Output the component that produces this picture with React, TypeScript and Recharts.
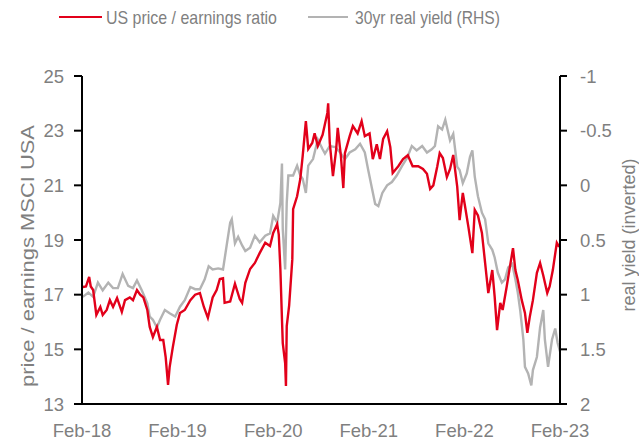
import React from "react";
import { LineChart, Line, XAxis, YAxis } from "recharts";

// months since Feb-2018
const peMonths = [0.1,0.5,0.9,1.1,1.4,1.8,2.3,2.6,3.1,3.5,3.9,4.4,5.0,5.4,6.0,6.4,6.9,7.3,7.7,8.2,8.5,8.9,9.4,9.8,10.2,10.5,10.8,11.0,11.4,11.9,12.3,12.9,13.6,14.2,14.8,15.3,15.8,16.4,16.9,17.3,17.7,17.9,18.6,19.2,19.8,20.1,20.5,21.1,21.7,22.3,23.0,23.6,24.0,24.5,24.7,24.9,25.1,25.2,25.5,25.6,25.7,26.0,26.4,26.5,27.0,27.4,27.7,28.1,28.4,28.9,29.2,29.6,30.2,30.8,30.9,31.1,31.5,31.9,32.1,32.5,32.8,33.0,33.6,34.0,34.6,35.1,35.5,36.1,36.5,37.0,37.4,37.8,38.3,38.7,39.0,39.7,40.3,40.9,41.5,42.2,42.8,43.3,43.7,44.1,44.6,44.9,45.3,45.8,46.2,46.6,47.1,47.4,47.8,48.1,48.5,49.0,49.3,49.7,50.2,50.6,51.0,51.5,51.8,52.1,52.5,52.8,53.3,53.7,54.1,54.4,54.7,55.2,55.6,55.9,56.2,56.6,57.1,57.5,57.9,58.4,58.7,59.1,59.6,59.9];
const peValues = [17.28,17.3,17.65,17.3,17.17,16.26,16.55,16.26,16.44,16.8,16.55,16.88,16.37,16.8,16.9,16.8,17.17,17.0,16.9,16.44,15.82,15.45,15.82,15.34,15.34,14.72,13.7,14.35,15.08,15.9,16.33,16.44,16.8,17.0,17.06,16.55,16.15,16.9,17.17,17.57,17.6,16.7,16.75,17.4,16.84,16.7,17.43,17.94,18.16,18.52,18.9,18.78,19.26,19.58,19.2,17.94,16.1,15.23,14.5,13.66,15.85,16.6,18.3,20.13,20.6,21.23,22.07,23.35,22.33,22.55,22.9,22.44,22.85,23.65,24.0,22.55,21.34,22.3,23.1,22.07,20.9,22.18,22.8,23.17,22.9,23.35,22.8,22.9,21.96,22.5,21.96,22.7,22.98,22.4,21.45,21.7,21.96,22.1,21.7,21.7,21.6,21.42,20.87,21.0,21.7,22.18,22.0,21.3,21.6,22.11,20.94,19.73,20.72,20.2,19.48,18.52,20.1,19.9,19.26,18.16,17.06,17.9,16.92,15.7,16.7,16.44,17.28,18.0,18.7,17.9,17.54,16.8,16.33,15.6,16.18,16.8,17.8,18.16,17.7,17.06,17.3,17.9,18.9,18.75];

const ryMonths = [0.1,0.8,1.4,2.0,2.6,3.3,3.9,4.5,5.1,5.8,6.4,6.9,7.5,8.2,8.5,8.9,9.4,9.8,10.4,11.0,11.7,12.3,12.9,13.6,14.2,14.8,15.4,15.9,16.4,17.1,17.7,18.2,18.6,18.8,19.2,19.6,20.1,20.5,21.1,21.7,22.3,23.0,23.6,24.0,24.5,24.9,25.1,25.2,25.5,25.7,25.9,26.5,27.0,27.4,27.7,28.1,28.4,29.0,29.6,30.2,30.5,31.1,31.8,32.4,33.0,33.6,34.3,34.9,35.5,35.9,36.4,36.8,37.2,37.7,38.3,38.9,39.5,40.2,40.8,41.4,42.0,42.7,43.3,43.9,44.3,44.7,45.2,45.6,46.2,46.6,47.1,47.4,47.8,48.3,48.7,49.0,49.3,49.7,50.2,50.6,51.0,51.5,51.8,52.2,52.7,53.1,53.5,54.0,54.4,54.7,55.0,55.4,55.6,56.0,56.4,56.6,57.1,57.5,57.9,58.1,58.5,59.0,59.4,59.7,60.0];
const ryValues = [1.02,0.98,1.02,0.89,0.96,0.89,0.94,0.94,0.81,0.92,0.94,0.87,0.96,1.08,1.2,1.23,1.3,1.23,1.14,1.17,1.2,1.11,1.05,0.93,0.95,0.95,0.86,0.74,0.77,0.76,0.77,0.53,0.34,0.31,0.53,0.47,0.55,0.6,0.57,0.46,0.52,0.46,0.44,0.28,0.34,0.16,-0.2,0.4,0.77,0.16,-0.09,-0.09,-0.18,-0.09,-0.06,0.07,-0.18,-0.24,-0.42,-0.33,-0.29,-0.36,-0.35,-0.3,-0.24,-0.3,-0.33,-0.38,-0.3,-0.15,0.03,0.17,0.19,0.07,0.0,-0.03,-0.09,-0.18,-0.25,-0.36,-0.32,-0.36,-0.3,-0.33,-0.36,-0.54,-0.51,-0.6,-0.41,-0.47,-0.17,-0.14,-0.02,-0.11,-0.26,-0.32,-0.08,0.1,0.25,0.31,0.53,0.59,0.66,0.8,0.89,0.86,0.75,0.72,0.86,0.98,1.14,1.41,1.66,1.72,1.83,1.69,1.57,1.3,1.14,1.41,1.66,1.41,1.31,1.44,1.52];

const xTicks = [0, 12, 24, 36, 48, 60];
const xTickLabels = ["Feb-18", "Feb-19", "Feb-20", "Feb-21", "Feb-22", "Feb-23"];
const peTicks = [13, 15, 17, 19, 21, 23, 25];
const ryTicks = [-1, -0.5, 0, 0.5, 1, 1.5, 2];

const seriesNames = ["US price / earnings ratio", "30yr real yield (RHS)"];
const leftTitle = "price / earnings MSCI USA";
const rightTitle = "real yield (inverted)";

const RED = "#E2001A";
const GREY = "#B3B3B3";
const TEXT = "#7F7F7F";
const FONT = "'Liberation Sans', Arial, sans-serif";

const peData = peMonths.map((m, i) => ({ m, pe: peValues[i] }));
const ryData = ryMonths.map((m, i) => ({ m, ry: ryValues[i] }));

const LeftTitle = (props: any) => {
  const vb = props.viewBox || {};
  const x = vb.x + 6;
  const y = 256;
  return (
    <text x={x} y={y} transform={`rotate(-90, ${x}, ${y})`} textAnchor="middle" dominantBaseline="central"
      fill={TEXT} fontSize={18} fontFamily={FONT} textLength={262} lengthAdjust="spacingAndGlyphs">{leftTitle}</text>
  );
};

const RightTitle = (props: any) => {
  const vb = props.viewBox || {};
  const x = vb.x + vb.width + 9;
  const y = 235;
  return (
    <text x={x} y={y} transform={`rotate(-90, ${x}, ${y})`} textAnchor="middle" dominantBaseline="central"
      fill={TEXT} fontSize={18} fontFamily={FONT}>{rightTitle}</text>
  );
};

export default function App() {
  return (
    <div style={{ position: "absolute", left: 0, top: 0, width: 639, height: 443, background: "#fff" }}>
      <svg width={639} height={40} style={{ position: "absolute", left: 0, top: 0 }}>
        <line x1={59} x2={102} y1={17} y2={17} stroke={RED} strokeWidth={2} />
        <text x={106} y={24} fill={TEXT} fontSize={19} fontFamily={FONT} textLength={171} lengthAdjust="spacingAndGlyphs">{seriesNames[0]}</text>
        <line x1={308} x2={348} y1={17} y2={17} stroke={GREY} strokeWidth={2} />
        <text x={355} y={24} fill={TEXT} fontSize={19} fontFamily={FONT} textLength={145} lengthAdjust="spacingAndGlyphs">{seriesNames[1]}</text>
      </svg>
      <LineChart width={639} height={443} margin={{ top: 76, right: 19, bottom: 9, left: 22 }}
        style={{ position: "absolute", left: 0, top: 0 }}>
        <XAxis dataKey="m" type="number" domain={[0, 60]} ticks={xTicks} allowDuplicatedCategory={false}
          tickFormatter={(v: number) => xTickLabels[xTicks.indexOf(v)] ?? ""}
          axisLine={{ stroke: "#000", strokeWidth: 2 }} tickLine={false} tickSize={6} tickMargin={14}
          height={30} tick={{ fill: TEXT, fontSize: 18.5, fontFamily: FONT }} interval={0} />
        <YAxis yAxisId="left" orientation="left" domain={[13, 25]} ticks={peTicks} width={60}
          axisLine={{ stroke: "#000", strokeWidth: 2 }} tickLine={{ stroke: "#000", strokeWidth: 2 }}
          tickSize={8} tickMargin={10} tick={{ fill: TEXT, fontSize: 18.5, fontFamily: FONT }}
          interval={0} label={<LeftTitle />} />
        <YAxis yAxisId="right" orientation="right" domain={[-1, 2]} ticks={ryTicks} reversed width={60}
          axisLine={{ stroke: "#000", strokeWidth: 2 }} tickLine={{ stroke: "#000", strokeWidth: 2 }}
          tickSize={7} tickMargin={13} tick={{ fill: TEXT, fontSize: 18.5, fontFamily: FONT, textAnchor: "start" }}
          interval={0} label={<RightTitle />} />
        <Line yAxisId="right" data={ryData} dataKey="ry" type="linear" stroke={GREY} strokeWidth={2.4}
          dot={false} isAnimationActive={false} />
        <Line yAxisId="left" data={peData} dataKey="pe" type="linear" stroke={RED} strokeWidth={2.4}
          dot={false} isAnimationActive={false} />
      </LineChart>
    </div>
  );
}
